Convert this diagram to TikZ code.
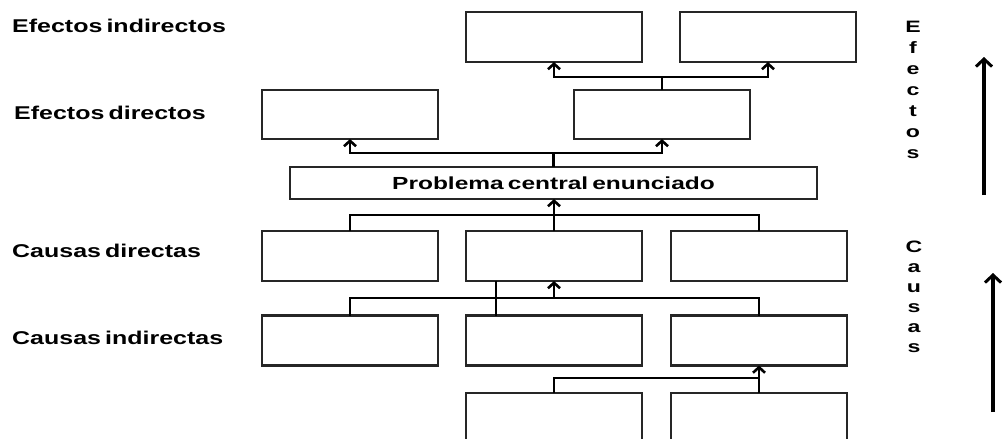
\documentclass[tikz,border=0pt]{standalone}
\usepackage{fontspec}
\usepackage{graphicx}
\newfontfamily\lblfont[WordSpace=0.6]{Liberation Sans}
\usetikzlibrary{arrows.meta,calc}
\newcommand{\sx}[2][1.35]{\scalebox{#1}[1]{#2}}
\begin{document}
\begin{tikzpicture}[x=1pt,y=-1pt,
  box/.style={draw=black!85,line width=2.3pt,fill=white,inner sep=0,outer sep=0,minimum width=176pt,minimum height=50pt},
  conn/.style={line width=2.8pt,black},
  arr/.style={conn,-{Straight Barb[length=5.5pt,width=12pt,line width=2.6pt]}},
  bigarr/.style={line width=3.2pt,-{Straight Barb[length=7.5pt,width=16pt,line width=3pt]}},
  lab/.style={font=\lblfont\bfseries\fontsize{18.5pt}{20pt}\selectfont,anchor=west,inner sep=0},
  vlab/.style={font=\lblfont\bfseries\fontsize{16.5pt}{21pt}\selectfont,align=center,anchor=north,inner sep=0}]
\clip (0,0) rectangle (1005,439);
\fill[white] (0,0) rectangle (1005,439);

% effects indirect
\node[box] (eiA) at (554,37) {};
\node[box] (eiB) at (768,37) {};
% effects direct
\node[box,minimum height=49pt] (edC) at (350,114.5) {};
\node[box,minimum height=49pt] (edD) at (662,114.5) {};
% central problem
\node[box,minimum width=527pt,minimum height=32pt] (pc) at (553.5,183)
  {\fontsize{17.5pt}{19pt}\lblfont\bfseries\selectfont\sx[1.4]{Problema central enunciado}};
% causes direct
\node[box] (cdE) at (350,256) {};
\node[box] (cdF) at (554,256) {};
\node[box] (cdG) at (759,256) {};
% causes indirect
\node[box] (ciH) at (350,340.5) {};
\node[box] (ciI) at (554,340.5) {};
\node[box] (ciJ) at (759,340.5) {};
% bottom
\node[box,minimum height=70pt] (bK) at (554,428) {};
\node[box,minimum height=70pt] (bL) at (759,428) {};

% connectors: effects
\coordinate (j1) at (edD.north |- 0,77);
\draw[conn] (edD.north) -- (j1);
\draw[arr] (j1) -| (eiA.south);
\draw[arr] (j1) -| (eiB.south);
\coordinate (j2) at (pc.north |- 0,153);
\draw[conn] (pc.north) -- (j2);
\draw[arr] (j2) -| (edC.south);
\draw[arr] (j2) -| (edD.south);
% causes direct to central
\coordinate (j3) at (cdF.north |- 0,215);
\draw[conn] (cdE.north) |- (j3) -| (cdG.north);
\draw[arr] (cdF.north) -- (cdF.north |- pc.south);
% causes indirect to direct
\coordinate (j4) at (cdF.south |- 0,298);
\draw[conn] (ciH.north) |- (j4) -| (ciJ.north);
\draw[arr] (j4) -- (cdF.south);
\coordinate (iI) at ($(ciI.north west)+(30,0)$);
\draw[conn] (iI) -- (iI |- cdF.south);
% bottom
\coordinate (j5) at (bL.north |- 0,378);
\draw[conn] (bK.north) |- (j5);
\draw[arr] (bL.north) -- (ciJ.south);

% left labels
\node[lab] (l1) at (12,25.5) {\sx{Efectos indirectos}};
\node[lab] (l2) at (14,113) {\sx{Efectos directos}};
\node[lab] (l3) at (12,251) {\sx{Causas directas}};
\node[lab] (l4) at (12,338) {\sx{Causas indirectas}};

% right labels
\node[vlab] (vE) at (913,21) {\sx[1.4]{E}\\\sx[1.4]{f}\\\sx[1.4]{e}\\\sx[1.4]{c}\\\sx[1.4]{t}\\\sx[1.4]{o}\\\sx[1.4]{s}};
\node[vlab] (vC) at (914,241) {\sx[1.4]{C}\\[-1pt]\sx[1.4]{a}\\[-1pt]\sx[1.4]{u}\\[-1pt]\sx[1.4]{s}\\[-1pt]\sx[1.4]{a}\\[-1pt]\sx[1.4]{s}};
\coordinate (aE0) at (984,195);
\coordinate (aE1) at (984,57);
\coordinate (aC0) at (993,412);
\coordinate (aC1) at (993,273);
\draw[bigarr] (aE0) -- (aE1);
\draw[bigarr] (aC0) -- (aC1);
\end{tikzpicture}
\end{document}
